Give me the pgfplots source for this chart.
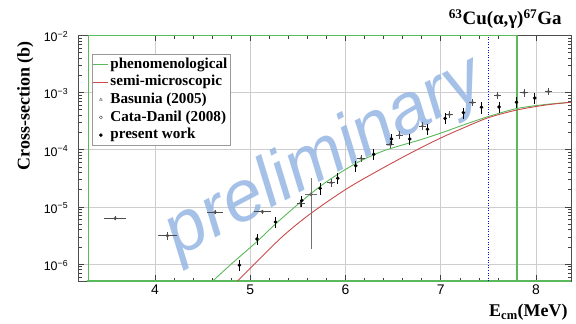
\documentclass[border=0pt]{standalone}
\usepackage{fontspec}
\setmainfont{Liberation Serif}
\setsansfont{Liberation Sans}
\usepackage{pgfplots}
\pgfplotsset{compat=1.18}
\definecolor{phgreen}{RGB}{90,185,90}
\definecolor{smred}{RGB}{200,75,75}
\definecolor{wmblue}{RGB}{150,182,228}
\definecolor{gridgray}{RGB}{205,205,205}
\begin{document}
\begin{tikzpicture}
\useasboundingbox (-78.3bp,-43bp) rectangle (497.7bp,281bp);
\begin{axis}[
  scale only axis, width=492.7bp, height=245.7bp,
  at={(0,0)}, anchor=south west,
  xmin=3.194, xmax=8.368,
  ymode=log, ymin=5.06e-7, ymax=1e-2,
  clip=false,
  axis line style={black!70, line width=0.5bp},
  xtick={4,5,6,7,8}, xticklabels={4,5,6,7,8},
  minor x tick num=4,
  ytick={1e-6,1e-5,1e-4,1e-3,1e-2},
  yticklabels={10\textsuperscript{−6},10\textsuperscript{−5},10\textsuperscript{−4},10\textsuperscript{−3},10\textsuperscript{−2}},
  minor ytick={6e-7,7e-7,8e-7,9e-7,2e-6,3e-6,4e-6,5e-6,6e-6,7e-6,8e-6,9e-6,2e-5,3e-5,4e-5,5e-5,6e-5,7e-5,8e-5,9e-5,2e-4,3e-4,4e-4,5e-4,6e-4,7e-4,8e-4,9e-4,2e-3,3e-3,4e-3,5e-3,6e-3,7e-3,8e-3,9e-3},
  tick align=inside,
  major tick length=6bp, minor tick length=3.5bp,
  tick style={black!75, line width=0.5bp},
  grid=major, major grid style={gridgray, line width=0.5bp},
  xticklabel style={font=\fontsize{14}{14}\selectfont\sffamily, inner sep=0pt, anchor=north, yshift=-4bp},
  yticklabel style={font=\fontsize{12.5}{12.5}\selectfont\sffamily, inner sep=0pt, anchor=base east, xshift=-10bp, yshift=-6.4bp},
  legend cell align=left,
  legend style={at={(0.0272,0.9227)}, anchor=north west, draw=black!40, fill=white,
    font=\fontsize{15.2}{17.7}\selectfont\bfseries, inner sep=1bp,
    nodes={text height=11bp, text depth=3.5bp, inner sep=1.6bp}},
  legend image code/.code={\draw[mark repeat=2,mark phase=2,#1] plot coordinates {(0bp,0bp) (7.5bp,0bp) (15bp,0bp)};},
]
% watermark
\node[rotate=28, font=\fontsize{72}{72}\selectfont\sffamily\itshape, text=wmblue, opacity=0.85] at (axis cs:5.785,7.0e-5) {preliminary};
% green frame-like parts of the phenomenological curve
\addplot[phgreen, line width=1.2bp, forget plot] coordinates {(7.8,1e-2) (7.8,5.06e-7)};
\addplot[phgreen, line width=1.2bp, forget plot] coordinates {(3.289,5.06e-7) (8.368,5.06e-7)};
% blue dotted line
\addplot[blue, dotted, line width=0.6bp, forget plot] coordinates {(7.5,5.06e-7) (7.5,1e-2)};
% phenomenological
\addplot[phgreen, line width=0.9bp, smooth] coordinates {
(4.606,5.06e-7) (4.8,1.0e-6) (5.07,2.47e-6) (5.264,5.01e-6) (5.54,1.26e-5) (5.8,2.75e-5) (6.108,5.75e-5) (6.4,9.55e-5) (6.78,1.48e-4) (7.0,1.95e-4) (7.25,2.75e-4) (7.5,3.80e-4) (7.8,5.25e-4) (8.1,6.17e-4) (8.368,6.76e-4)};
\addlegendentry{phenomenological}
% semi-microscopic
\addplot[smred, line width=0.9bp, smooth] coordinates {
(4.865,5.06e-7) (5.103,1.26e-6) (5.35,3.16e-6) (5.628,7.52e-6) (6.006,2.04e-5) (6.35,4.37e-5) (6.679,8.65e-5) (6.994,1.585e-4) (7.25,2.45e-4) (7.5,3.63e-4) (7.8,4.94e-4) (8.1,6.03e-4) (8.368,6.75e-4)};
\addlegendentry{semi-microscopic}
% Basunia (2005)
\addplot[only marks, mark=triangle, mark size=1.6bp, mark options={black!70, fill=white, line width=0.4bp},
  error bars/.cd, x dir=both, y dir=both, x explicit, y explicit relative,
  error bar style={black!70, line width=0.6bp}, error mark=none]
coordinates {
(5.53,1.16e-5) +- (0.04,0.15)
(5.849,2.65e-5) +- (0.04,0.15)
(6.164,7.08e-5) +- (0.04,0.15)
(6.468,1.24e-4) +- (0.04,0.15)
(6.566,1.81e-4) +- (0.04,0.15)
(6.808,2.6e-4) +- (0.04,0.15)
(7.091,4.16e-4) +- (0.04,0.15)
(7.333,6.75e-4) +- (0.04,0.15)
(7.596,9.0e-4) +- (0.04,0.15)
(7.876,1.0e-3) +- (0.04,0.15)
(8.131,1.05e-3) +- (0.04,0.15)};
\addlegendentry{Basunia (2005)}
% Cata-Danil (2008)
\addplot[only marks, mark=o, mark size=1.6bp, mark options={black!70, fill=white, line width=0.4bp},
  error bars/.cd, x dir=both, y dir=both, x explicit, y explicit relative,
  error bar style={black!70, line width=0.6bp}, error mark=none]
coordinates {
(3.58,6.3e-6) +- (0.114,0.08)
(4.129,3.14e-6) +- (0.10,0.17)
(4.63,8.05e-6) +- (0.088,0.08)
(5.127,8.26e-6) +- (0.09,0.08)};
\addlegendentry{Cata-Danil (2008)}
\addplot[only marks, mark=o, mark size=1.6bp, mark options={black!70, fill=white, line width=0.4bp}, forget plot,
  error bars/.cd, x dir=both, y dir=both, x explicit, y explicit,
  error bar style={black!55, line width=0.6bp}, error mark=none]
coordinates {(5.636,1.66e-5) += (0.06,1.5e-5) -= (0.06,1.48e-5)};
% present work
\addplot[only marks, mark=*, mark size=1.6bp, mark options={black},
  error bars/.cd, y dir=both, y explicit relative,
  error bar style={black, line width=0.7bp}, error mark=none]
coordinates {
(4.886,9.6e-7) +- (0,0.22)
(5.071,2.75e-6) +- (0,0.22)
(5.264,5.45e-6) +- (0,0.22)
(5.541,1.29e-5) +- (0,0.22)
(5.733,2.11e-5) +- (0,0.22)
(5.919,3.16e-5) +- (0,0.22)
(6.108,5.25e-5) +- (0,0.22)
(6.297,8.3e-5) +- (0,0.22)
(6.482,1.54e-4) +- (0,0.22)
(6.675,1.54e-4) +- (0,0.22)
(6.861,2.28e-4) +- (0,0.22)
(7.046,3.54e-4) +- (0,0.22)
(7.238,4.44e-4) +- (0,0.22)
(7.428,5.5e-4) +- (0,0.22)
(7.613,5.58e-4) +- (0,0.22)
(7.795,6.75e-4) +- (0,0.22)
(7.988,8.0e-4) +- (0,0.22)};
\addlegendentry{present work}
% left and top green segments, drawn last
\addplot[phgreen, line width=1.4bp, forget plot] coordinates {(3.30,5.06e-7) (3.30,9.95e-3) (7.8,9.95e-3)};
\end{axis}
\node[anchor=base east, font=\fontsize{19}{19}\selectfont\bfseries] at (486.7bp,256bp) {\textsuperscript{63}Cu(α,γ)\textsuperscript{67}Ga};
\node[anchor=base east, font=\fontsize{18}{18}\selectfont\bfseries] at (492.7bp,-35.7bp) {E\textsubscript{cm}(MeV)};
\node[rotate=90, anchor=base east, font=\fontsize{18}{18}\selectfont\bfseries] at (-48.7bp,243bp) {Cross-section (b)};
\end{tikzpicture}
\end{document}
